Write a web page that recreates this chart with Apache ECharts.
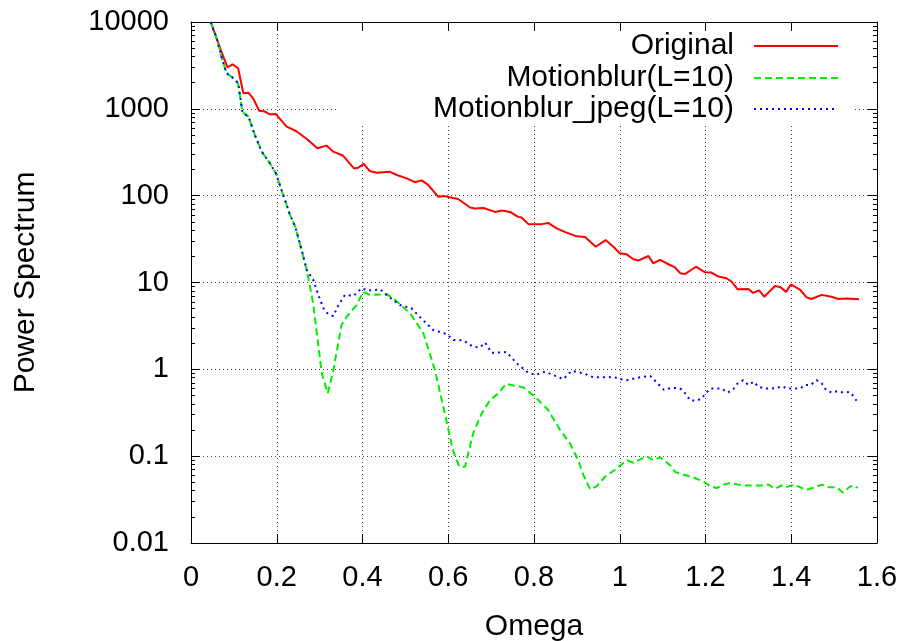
<!DOCTYPE html>
<html>
<head>
<meta charset="utf-8">
<script src="https://cdn.jsdelivr.net/npm/echarts@6/dist/echarts.min.js"></script>
<style>
html,body{margin:0;padding:0;background:#fff;}
#chart{width:906px;height:641px;}
</style>
</head>
<body>
<div id="chart"></div>
<script>
// ---- data ----
const seriesNames = ['Original', 'Motionblur(L=10)', 'Motionblur_jpeg(L=10)'];

const origX = [0.046,0.068,0.085,0.097,0.110,0.122,0.134,0.145,0.159,0.170,0.184,0.198,0.223,0.245,0.270,0.295,0.316,0.332,0.355,0.380,0.390,0.403,0.417,0.433,0.464,0.480,0.503,0.522,0.538,0.553,0.577,0.589,0.623,0.651,0.662,0.682,0.709,0.725,0.744,0.763,0.771,0.787,0.818,0.833,0.853,0.873,0.900,0.919,0.944,0.967,0.985,1.000,1.016,1.032,1.043,1.067,1.078,1.094,1.117,1.129,1.141,1.152,1.178,1.199,1.214,1.230,1.249,1.261,1.275,1.300,1.311,1.325,1.337,1.362,1.374,1.388,1.399,1.420,1.436,1.447,1.471,1.494,1.510,1.529,1.558];
const origY = [10000,4980,3010,3260,2930,1510,1530,1320,950,940,865,870,623,556,450,351,377,321,288,206,210,232,192,184,188,173,158,143,150,133,97,99,91.5,73,71,72,65,67.5,65,57,56,47,47,48.5,42,38,34,33.5,25.8,30.8,25.8,21.7,21.1,18.5,17.9,20.2,16.6,18.2,15.9,14.9,12.8,12.5,15.2,13.1,13,11.7,11.2,10.2,8.34,8.4,7.6,8.1,6.86,9.1,8.9,7.8,9.5,8.3,6.75,6.45,7.2,6.85,6.45,6.55,6.4];

const blurX = [0.046,0.060,0.072,0.083,0.099,0.110,0.120,0.134,0.149,0.165,0.184,0.198,0.215,0.231,0.243,0.258,0.270,0.285,0.305,0.319,0.332,0.351,0.363,0.386,0.402,0.417,0.456,0.472,0.511,0.542,0.553,0.569,0.592,0.612,0.626,0.639,0.658,0.678,0.697,0.717,0.735,0.752,0.775,0.803,0.833,0.861,0.884,0.903,0.915,0.931,0.946,0.966,0.993,1.016,1.032,1.063,1.078,1.094,1.117,1.129,1.144,1.160,1.175,1.195,1.211,1.226,1.242,1.257,1.277,1.292,1.311,1.331,1.347,1.362,1.378,1.389,1.406,1.420,1.436,1.455,1.472,1.486,1.506,1.521,1.535,1.546,1.555];
const blurY = [10000,6490,3820,2570,2250,1970,912,813,500,321,236,181,102,60,44,23.7,13.9,5.75,0.90,0.53,0.98,3.24,4.04,5.5,7.83,7.18,7.36,6.56,4.42,2.6,1.75,0.98,0.31,0.112,0.0755,0.0755,0.183,0.31,0.44,0.53,0.68,0.65,0.62,0.48,0.34,0.20,0.14,0.090,0.061,0.0415,0.045,0.058,0.072,0.090,0.084,0.100,0.090,0.097,0.079,0.066,0.062,0.059,0.056,0.051,0.045,0.043,0.047,0.049,0.047,0.046,0.046,0.046,0.047,0.042,0.046,0.044,0.047,0.044,0.041,0.044,0.047,0.044,0.044,0.038,0.044,0.046,0.043];

const jpegX = [0.046,0.060,0.072,0.083,0.099,0.110,0.120,0.134,0.149,0.165,0.184,0.198,0.215,0.231,0.243,0.258,0.270,0.285,0.297,0.309,0.320,0.332,0.344,0.359,0.379,0.398,0.414,0.441,0.456,0.487,0.514,0.534,0.565,0.596,0.612,0.635,0.658,0.674,0.686,0.701,0.736,0.760,0.783,0.803,0.826,0.845,0.868,0.888,0.915,0.938,0.970,0.985,1.001,1.016,1.047,1.071,1.092,1.103,1.119,1.133,1.144,1.155,1.164,1.178,1.191,1.202,1.212,1.238,1.252,1.265,1.274,1.288,1.300,1.313,1.323,1.339,1.354,1.366,1.378,1.391,1.405,1.421,1.432,1.445,1.459,1.471,1.481,1.494,1.507,1.521,1.535,1.546,1.555];
const jpegY = [10000,6490,3820,2570,2250,1970,912,813,500,321,236,181,102,60,44,23.7,13.9,10.7,7.18,5.05,4.3,4.1,5.5,7.2,7.0,8.6,8.05,8.35,7.2,5.5,5.05,4.0,2.84,2.55,2.18,2.15,1.82,1.79,2.03,1.55,1.58,1.17,0.94,0.86,0.94,0.86,0.77,0.96,0.90,0.81,0.81,0.82,0.77,0.75,0.81,0.84,0.66,0.58,0.61,0.61,0.59,0.515,0.44,0.435,0.46,0.54,0.60,0.60,0.54,0.59,0.68,0.75,0.66,0.72,0.63,0.60,0.60,0.61,0.64,0.60,0.60,0.60,0.66,0.66,0.75,0.69,0.58,0.54,0.56,0.54,0.55,0.49,0.41];

const xMin = 0, xMax = 1.6, xStep = 0.2;
const yMin = 0.01, yMax = 10000;
const yMinorTicks = [2,3,4,5,6,7,8,9,20,30,40,50,60,70,80,90,200,300,400,500,600,700,800,900,2000,3000,4000,5000,6000,7000,8000,9000,0.2,0.3,0.4,0.5,0.6,0.7,0.8,0.9,0.02,0.03,0.04,0.05,0.06,0.07,0.08,0.09];

// ---- chart ----
const FONT = 'Liberation Sans';
const pairs = (xs, ys) => xs.map((x, i) => [x, ys[i]]);
const chart = echarts.init(document.getElementById('chart'), null, {renderer: 'canvas'});

const grid = {left: 191, right: 29, top: 22, bottom: 98, containLabel: false, outerBoundsMode: 'none'};
const dotted = {color: '#444', width: 1, type: [1, 3]};

function legendFor(name, top) {
  return {
    data: [name], orient: 'vertical', right: 67, top: top, padding: 0,
    align: 'right', itemWidth: 84, itemHeight: 14, selectedMode: false,
    itemStyle: {opacity: 0},
    textStyle: {fontFamily: FONT, fontSize: 30, color: '#000', padding: [0, 15, 0, 0]}
  };
}

chart.setOption({
  animation: false,
  backgroundColor: '#fff',
  grid: grid,
  legend: [legendFor(seriesNames[0], 31), legendFor(seriesNames[1], 63), legendFor(seriesNames[2], 94)],
  graphic: [{
    type: 'rect', z: 1, silent: true,
    shape: {x: 338, y: 32, width: 517, height: 92},
    style: {fill: '#fff'}
  }],
  xAxis: [{
    type: 'value', min: xMin, max: xMax, interval: xStep, position: 'bottom',
    name: 'Omega', nameLocation: 'middle', nameGap: 69,
    nameTextStyle: {fontFamily: FONT, fontSize: 30, color: '#000'},
    axisLine: {show: true, lineStyle: {color: '#000', width: 1}},
    axisTick: {show: true, inside: true, length: 9, lineStyle: {color: '#000'}},
    axisLabel: {fontFamily: FONT, fontSize: 29, color: '#000', margin: 20},
    splitLine: {show: true, lineStyle: dotted}
  }, {
    type: 'value', min: xMin, max: xMax, interval: xStep, position: 'top',
    axisLine: {show: true, onZero: false, lineStyle: {color: '#000', width: 1}},
    axisTick: {show: true, inside: true, length: 9, lineStyle: {color: '#000'}},
    axisLabel: {show: false}, splitLine: {show: false}
  }],
  yAxis: [{
    type: 'log', logBase: 10, min: yMin, max: yMax, position: 'left',
    name: 'Power Spectrum', nameLocation: 'middle', nameGap: 150,
    nameTextStyle: {fontFamily: FONT, fontSize: 30, color: '#000'},
    axisLine: {show: true, lineStyle: {color: '#000', width: 1}},
    axisTick: {show: true, inside: true, length: 9, lineStyle: {color: '#000'}},
    axisLabel: {fontFamily: FONT, fontSize: 29, color: '#000', margin: 22,
      formatter: v => String(+(+v).toPrecision(6))},
    splitLine: {show: true, lineStyle: dotted}
  }, {
    type: 'log', logBase: 10, min: yMin, max: yMax, position: 'right',
    axisLine: {show: true, onZero: false, lineStyle: {color: '#000', width: 1}},
    axisTick: {show: true, inside: true, length: 9, lineStyle: {color: '#000'}},
    axisLabel: {show: false}, splitLine: {show: false}
  }, {
    type: 'log', logBase: 10, min: yMin, max: yMax, position: 'left',
    axisLine: {show: false},
    axisTick: {show: true, inside: true, length: 4, customValues: yMinorTicks, lineStyle: {color: '#000'}},
    axisLabel: {show: false}, splitLine: {show: false}
  }, {
    type: 'log', logBase: 10, min: yMin, max: yMax, position: 'right',
    axisLine: {show: false},
    axisTick: {show: true, inside: true, length: 4, customValues: yMinorTicks, lineStyle: {color: '#000'}},
    axisLabel: {show: false}, splitLine: {show: false}
  }],
  series: [{
    name: seriesNames[0], type: 'line', data: pairs(origX, origY), symbol: 'none', z: 3,
    itemStyle: {color: '#ff0000'}, lineStyle: {color: '#ff0000', width: 2, type: 'solid'}
  }, {
    name: seriesNames[1], type: 'line', data: pairs(blurX, blurY), symbol: 'none', z: 3,
    itemStyle: {color: '#00ee00'}, lineStyle: {color: '#00ee00', width: 2, type: [7, 4]}
  }, {
    name: seriesNames[2], type: 'line', data: pairs(jpegX, jpegY), symbol: 'none', z: 4,
    itemStyle: {color: '#0000ff'}, lineStyle: {color: '#0000ff', width: 2, type: [2, 4]}
  }]
});
</script>
</body>
</html>
